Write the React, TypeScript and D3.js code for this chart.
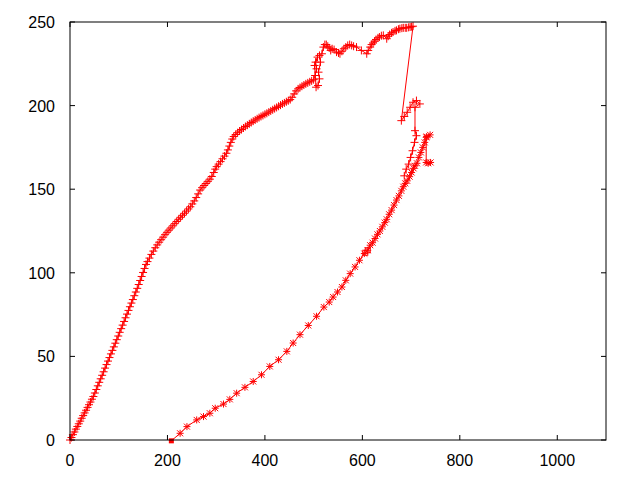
import React from "react";
import * as d3 from "d3";

// upper run, "+" markers
const upperSeries: [number, number][] = [
  [0, 0], [3, 1.5], [6, 3.2], [9, 4.8], [12, 6.5], [15, 8.1], [18, 9.7], [21, 11.3], [24, 13], [27, 14.6],
  [30, 16.2], [33, 17.8], [36, 19.5], [39, 21.1], [42, 22.7], [45, 24.4], [48, 26], [51, 28.1], [54, 30.2],
  [57, 32.4], [60, 34.5], [63, 36.6], [66, 38.7], [69, 40.8], [72, 43], [75, 45.1], [78, 47.2], [81, 49.3],
  [84, 51.5], [87, 53.6], [90, 55.7], [93, 57.9], [96, 60], [99, 62.2], [102, 64.4], [105, 66.6], [108, 68.7],
  [111, 70.9], [114, 73.1], [117, 75.3], [120, 77.5], [123, 79.7], [126, 81.9], [129, 84], [132, 86.3],
  [135, 88.5], [138, 90.7], [141, 93], [144, 95.4], [147, 97.8], [150, 100.2], [153, 102.6], [156, 105],
  [159, 106.7], [163, 108.8], [167, 111], [171, 113], [175, 115], [179, 116.7], [183, 118.3], [187, 119.8],
  [191, 121.3], [195, 122.8], [199, 124.2], [203, 125.5], [207, 126.8], [211, 128.1], [215, 129.4], [219, 130.7],
  [223, 132], [227, 133.2], [231, 134.4], [235, 135.6], [239, 136.9], [243, 138.2], [247, 139.5], [251, 141.2],
  [255, 143], [259, 145], [263, 147.2], [267, 149.5], [271, 150.9], [275, 152.2], [279, 153.4], [283, 154.7],
  [287, 156], [291, 157.6], [295, 160], [298, 162], [301, 163.5], [305, 165], [309, 166.5], [313, 168.2],
  [317, 169.8], [321, 171.5], [324, 173.5], [327, 175.8], [330, 178], [333, 180], [336, 181.5], [340, 182.7],
  [344, 183.8], [348, 184.8], [352, 185.7], [356, 186.6], [360, 187.5], [364, 188.3], [368, 189.1], [372, 189.9],
  [376, 190.7], [380, 191.4], [384, 192.1], [388, 192.8], [392, 193.5], [396, 194.1], [400, 194.8], [404, 195.4],
  [408, 196.1], [412, 196.8], [416, 197.5], [420, 198.2], [424, 198.9], [428, 199.6], [432, 200.3], [436, 201],
  [440, 201.6], [444, 202.3], [448, 202.9], [452, 203.6], [456, 205], [460, 207], [464, 208.8], [468, 210],
  [472, 210.8], [476, 211.6], [480, 212.3], [484, 213], [488, 213.6], [492, 214.2], [496, 214.8], [500, 215.5],
  [503, 218], [506, 222], [504, 226], [508, 229], [502, 224], [505, 211], [509, 212], [512, 216], [510, 220],
  [514, 226], [512, 230], [517, 231], [520, 235], [523, 236.5], [526, 236.5], [529, 235.5], [532, 234.5],
  [535, 233], [538, 234], [542, 233.5], [547, 232], [551, 231.5], [554, 231], [558, 232.5], [562, 234],
  [566, 235], [570, 236], [574, 236.5], [578, 236], [582, 235.5], [588, 235], [598, 233], [609, 231], [612, 233],
  [616, 235], [619, 236.5], [622, 237.5], [625, 238.5], [628, 239.5], [632, 240.5], [635, 241], [639, 241.8],
  [643, 242], [650, 240], [653, 241.5], [656, 242.5], [660, 243.5], [663, 244], [667, 244.7], [670, 245],
  [674, 245.7], [677, 246], [681, 246.3], [684, 246.5], [688, 246.5], [691, 246.5], [695, 246.8], [698, 247],
  [701, 247.2], [704, 247.5], [680, 191], [686, 193.5], [692, 196], [698, 199], [704, 202], [711, 203],
  [718, 201], [708, 199], [708, 185], [711, 182], [707, 178], [703, 173], [699, 169], [695, 165], [690, 162],
  [686, 158],
];

// lower run, "*" markers
const lowerSeries: [number, number][] = [
  [226, 4], [240, 8], [260, 12], [274, 14], [287, 16], [298, 19], [315, 21.5], [328, 24.3], [342, 28],
  [359, 31.5], [376, 35], [393, 39], [410, 44], [428, 48], [445, 53], [458, 58], [472, 63], [489, 68.5], [506, 74],
  [521, 79.5], [532, 82.5], [540, 85.5], [549, 88.5], [558, 91.5], [566, 95.5], [575, 99.5], [585, 103.5],
  [594, 107.5], [604, 111.5], [611, 113.5], [616, 116.5], [621, 118], [626, 120.5], [631, 123], [636, 125],
  [641, 127.5], [646, 130], [650, 132], [655, 135], [660, 137.5], [665, 140.5], [670, 143.5], [675, 146],
  [680, 149], [684, 151.5], [688, 153.5], [692, 155], [697, 157.5], [701, 160], [705, 162.5], [708, 164],
  [712, 165.5], [716, 169], [720, 172], [724, 175], [728, 178], [732, 181.5], [739, 182.5], [731, 181],
  [731, 166], [735, 165.5], [740, 166],
];

const filledSquares: [number, number][] = [[208, -0.5]];
const openSquares: [number, number][] = [[606, 112], [611, 113.5]];

const xTicks = [0, 200, 400, 600, 800, 1000];
const yTicks = [0, 50, 100, 150, 200, 250];

const width = 640;
const height = 480;
const left = 70;
const right = 606;
const top = 22;
const bottom = 440;
const red = "#ff0000";

export default function App() {
  const x = d3.scaleLinear().domain([0, 1100]).range([left, right]);
  const y = d3.scaleLinear().domain([0, 250]).range([bottom, top]);
  const line = d3.line<[number, number]>().x((d) => x(d[0])).y((d) => y(d[1]));
  const tick = 5;

  return (
    <svg
      width={width}
      height={height}
      style={{ position: "absolute", left: 0, top: 0, background: "#fff" }}
      fontFamily="'Liberation Sans', Arial, sans-serif"
      fontSize={16}
    >
      <rect x={0} y={0} width={width} height={height} fill="#fff" />

      {/* ticks, mirrored on all sides */}
      <g stroke="#000" strokeWidth={1}>
        {xTicks.map((t) => (
          <g key={"x" + t}>
            <line x1={x(t)} x2={x(t)} y1={bottom} y2={bottom - tick} />
            <line x1={x(t)} x2={x(t)} y1={top} y2={top + tick} />
          </g>
        ))}
        {yTicks.map((t) => (
          <g key={"y" + t}>
            <line x1={left} x2={left + tick} y1={y(t)} y2={y(t)} />
            <line x1={right} x2={right - tick} y1={y(t)} y2={y(t)} />
          </g>
        ))}
      </g>

      {xTicks.map((t) => (
        <text key={"xl" + t} x={x(t)} y={466} textAnchor="middle" fill="#000">
          {t}
        </text>
      ))}
      {yTicks.map((t) => (
        <text key={"yl" + t} x={55} y={y(t) + 6} textAnchor="end" fill="#000">
          {t}
        </text>
      ))}

      {/* data */}
      <path d={line(upperSeries) ?? ""} fill="none" stroke={red} strokeWidth={1} />
      <path d={line([...filledSquares, ...lowerSeries]) ?? ""} fill="none" stroke={red} strokeWidth={1} />
      <g stroke={red} strokeWidth={1}>
        {upperSeries.map((d, i) => (
          <path
            key={"u" + i}
            d={`M${x(d[0]) - 4},${y(d[1])}h8M${x(d[0])},${y(d[1]) - 4}v8`}
          />
        ))}
        {lowerSeries.map((d, i) => (
          <path
            key={"l" + i}
            d={`M${x(d[0]) - 3.5},${y(d[1])}h7M${x(d[0])},${y(d[1]) - 3.5}v7M${x(d[0]) - 3},${y(d[1]) - 3}l6,6M${x(d[0]) - 3},${y(d[1]) + 3}l6,-6`}
          />
        ))}
        {openSquares.map((d, i) => (
          <rect key={"o" + i} x={x(d[0]) - 2.5} y={y(d[1]) - 2.5} width={5} height={5} fill="none" />
        ))}
      </g>
      {filledSquares.map((d, i) => (
        <rect key={"f" + i} x={x(d[0]) - 2.5} y={y(d[1]) - 2.5} width={5} height={5} fill={red} />
      ))}

      <rect x={left} y={top} width={right - left} height={bottom - top} fill="none" stroke="#000" strokeWidth={1} />
    </svg>
  );
}
